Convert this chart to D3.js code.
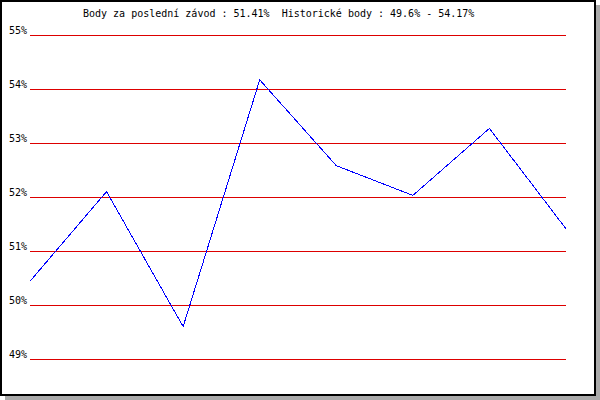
<!DOCTYPE html>
<html>
<head>
<meta charset="utf-8">
<script src="https://cdn.jsdelivr.net/npm/d3@7"></script>
<style>
  body { margin: 0; background: #fff; }
  svg { display: block; }
  text { font-family: "DejaVu Sans Mono", "Liberation Mono", monospace; font-size: 10px; fill: #000; white-space: pre; }
</style>
</head>
<body>
<div id="chart"></div>
<script>
// values (percent)
var races = [1, 2, 3, 4, 5, 6, 7, 8];
var points = [50.44, 52.10, 49.60, 54.17, 52.58, 52.03, 53.27, 51.41];
var yTicks = [49, 50, 51, 52, 53, 54, 55];
var titleText = 'Body za poslední závod : 51.41%  Historické body : 49.6% - 54.17%';

var width = 600,
    height = 400,
    gridColor = '#dd0000',
    lineColor = '#0000ff';

var svg = d3.select('#chart')
    .append('svg')
    .attr('width', width)
    .attr('height', height);

// shadow + framed panel
svg.append('rect')
    .attr('x', 5).attr('y', 5)
    .attr('width', width - 5).attr('height', height - 5)
    .attr('fill', '#aaaaaa');
svg.append('rect')
    .attr('x', 1).attr('y', 1)
    .attr('width', 594).attr('height', 394)
    .attr('fill', '#fff')
    .attr('stroke', '#000')
    .attr('stroke-width', 2);

var x = d3.scaleLinear().domain([d3.min(races), d3.max(races)]).range([30, 566]);
var y = d3.scaleLinear().domain([49, 55]).range([359, 35]);

// horizontal grid, one per tick
var axis = d3.axisLeft(y)
    .tickValues(yTicks)
    .tickSize(-(566 - 30))
    .tickPadding(3)
    .tickFormat(function (d) { return d + '%'; });

var g = svg.append('g')
    .attr('transform', 'translate(30,0)')
    .call(axis);
g.select('.domain').remove();
g.selectAll('.tick line')
    .attr('stroke', gridColor)
    .attr('shape-rendering', 'crispEdges');
g.selectAll('.tick text')
    .attr('x', -3)
    .attr('dy', -2)
    .attr('font-family', null)
    .attr('font-size', null)
    .style('text-anchor', 'end');

// title
svg.append('text')
    .attr('x', 83)
    .attr('y', 17)
    .text(titleText);

// the points line
var line = d3.line()
    .x(function (d, i) { return x(races[i]); })
    .y(function (d) { return y(d); });

svg.append('path')
    .datum(points)
    .attr('d', line)
    .attr('fill', 'none')
    .attr('stroke', lineColor)
    .attr('stroke-width', 1)
    .attr('shape-rendering', 'crispEdges');
</script>
</body>
</html>
